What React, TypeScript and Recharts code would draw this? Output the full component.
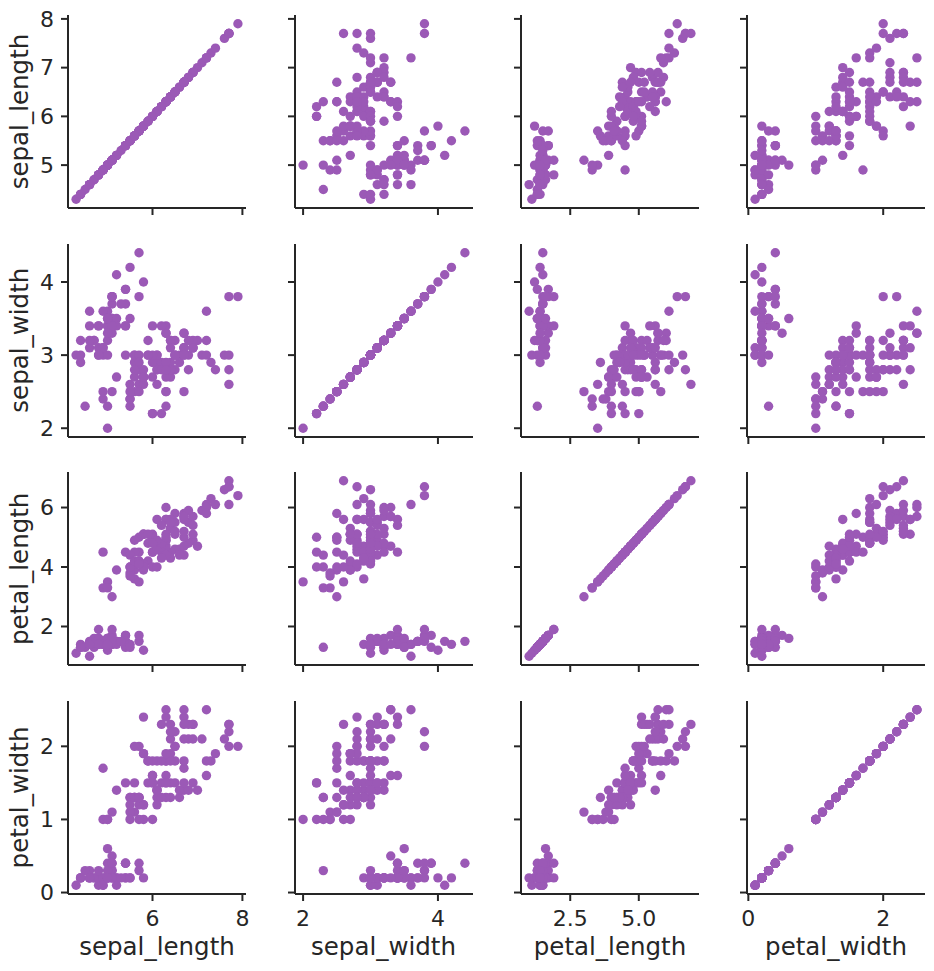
import React from 'react';
import { ScatterChart, Scatter, XAxis, YAxis } from 'recharts';

// iris measurements, one value per flower
const sepalLength = [
  5.1, 4.9, 4.7, 4.6, 5.0, 5.4, 4.6, 5.0, 4.4, 4.9, 5.4, 4.8, 4.8, 4.3, 5.8, 5.7, 5.4, 5.1, 5.7, 5.1,
  5.4, 5.1, 4.6, 5.1, 4.8, 5.0, 5.0, 5.2, 5.2, 4.7, 4.8, 5.4, 5.2, 5.5, 4.9, 5.0, 5.5, 4.9, 4.4, 5.1,
  5.0, 4.5, 4.4, 5.0, 5.1, 4.8, 5.1, 4.6, 5.3, 5.0,
  7.0, 6.4, 6.9, 5.5, 6.5, 5.7, 6.3, 4.9, 6.6, 5.2, 5.0, 5.9, 6.0, 6.1, 5.6, 6.7, 5.6, 5.8, 6.2, 5.6,
  5.9, 6.1, 6.3, 6.1, 6.4, 6.6, 6.8, 6.7, 6.0, 5.7, 5.5, 5.5, 5.8, 6.0, 5.4, 6.0, 6.7, 6.3, 5.6, 5.5,
  5.5, 6.1, 5.8, 5.0, 5.6, 5.7, 5.7, 6.2, 5.1, 5.7,
  6.3, 5.8, 7.1, 6.3, 6.5, 7.6, 4.9, 7.3, 6.7, 7.2, 6.5, 6.4, 6.8, 5.7, 5.8, 6.4, 6.5, 7.7, 7.7, 6.0,
  6.9, 5.6, 7.7, 6.3, 6.7, 7.2, 6.2, 6.1, 6.4, 7.2, 7.4, 7.9, 6.4, 6.3, 6.1, 7.7, 6.3, 6.4, 6.0, 6.9,
  6.7, 6.9, 5.8, 6.8, 6.7, 6.7, 6.3, 6.5, 6.2, 5.9,
];
const sepalWidth = [
  3.5, 3.0, 3.2, 3.1, 3.6, 3.9, 3.4, 3.4, 2.9, 3.1, 3.7, 3.4, 3.0, 3.0, 4.0, 4.4, 3.9, 3.5, 3.8, 3.8,
  3.4, 3.7, 3.6, 3.3, 3.4, 3.0, 3.4, 3.5, 3.4, 3.2, 3.1, 3.4, 4.1, 4.2, 3.1, 3.2, 3.5, 3.6, 3.0, 3.4,
  3.5, 2.3, 3.2, 3.5, 3.8, 3.0, 3.8, 3.2, 3.7, 3.3,
  3.2, 3.2, 3.1, 2.3, 2.8, 2.8, 3.3, 2.4, 2.9, 2.7, 2.0, 3.0, 2.2, 2.9, 2.9, 3.1, 3.0, 2.7, 2.2, 2.5,
  3.2, 2.8, 2.5, 2.8, 2.9, 3.0, 2.8, 3.0, 2.9, 2.6, 2.4, 2.4, 2.7, 2.7, 3.0, 3.4, 3.1, 2.3, 3.0, 2.5,
  2.6, 3.0, 2.6, 2.3, 2.7, 3.0, 2.9, 2.9, 2.5, 2.8,
  3.3, 2.7, 3.0, 2.9, 3.0, 3.0, 2.5, 2.9, 2.5, 3.6, 3.2, 2.7, 3.0, 2.5, 2.8, 3.2, 3.0, 3.8, 2.6, 2.2,
  3.2, 2.8, 2.8, 2.7, 3.3, 3.2, 2.8, 3.0, 2.8, 3.0, 2.8, 3.8, 2.8, 2.8, 2.6, 3.0, 3.4, 3.1, 3.0, 3.1,
  3.1, 3.1, 2.7, 3.2, 3.3, 3.0, 2.5, 3.0, 3.4, 3.0,
];
const petalLength = [
  1.4, 1.4, 1.3, 1.5, 1.4, 1.7, 1.4, 1.5, 1.4, 1.5, 1.5, 1.6, 1.4, 1.1, 1.2, 1.5, 1.3, 1.4, 1.7, 1.5,
  1.7, 1.5, 1.0, 1.7, 1.9, 1.6, 1.6, 1.5, 1.4, 1.6, 1.6, 1.5, 1.5, 1.4, 1.5, 1.2, 1.3, 1.4, 1.3, 1.5,
  1.3, 1.3, 1.3, 1.6, 1.9, 1.4, 1.6, 1.4, 1.5, 1.4,
  4.7, 4.5, 4.9, 4.0, 4.6, 4.5, 4.7, 3.3, 4.6, 3.9, 3.5, 4.2, 4.0, 4.7, 3.6, 4.4, 4.5, 4.1, 4.5, 3.9,
  4.8, 4.0, 4.9, 4.7, 4.3, 4.4, 4.8, 5.0, 4.5, 3.5, 3.8, 3.7, 3.9, 5.1, 4.5, 4.5, 4.7, 4.4, 4.1, 4.0,
  4.4, 4.6, 4.0, 3.3, 4.2, 4.2, 4.2, 4.3, 3.0, 4.1,
  6.0, 5.1, 5.9, 5.6, 5.8, 6.6, 4.5, 6.3, 5.8, 6.1, 5.1, 5.3, 5.5, 5.0, 5.1, 5.3, 5.5, 6.7, 6.9, 5.0,
  5.7, 4.9, 6.7, 4.9, 5.7, 6.0, 4.8, 4.9, 5.6, 5.8, 6.1, 6.4, 5.6, 5.1, 5.6, 6.1, 5.6, 5.5, 4.8, 5.4,
  5.6, 5.1, 5.1, 5.9, 5.7, 5.2, 5.0, 5.2, 5.4, 5.1,
];
const petalWidth = [
  0.2, 0.2, 0.2, 0.2, 0.2, 0.4, 0.3, 0.2, 0.2, 0.1, 0.2, 0.2, 0.1, 0.1, 0.2, 0.4, 0.4, 0.3, 0.3, 0.3,
  0.2, 0.4, 0.2, 0.5, 0.2, 0.2, 0.4, 0.2, 0.2, 0.2, 0.2, 0.4, 0.1, 0.2, 0.2, 0.2, 0.2, 0.1, 0.2, 0.2,
  0.3, 0.3, 0.2, 0.6, 0.4, 0.3, 0.2, 0.2, 0.2, 0.2,
  1.4, 1.5, 1.5, 1.3, 1.5, 1.3, 1.6, 1.0, 1.3, 1.4, 1.0, 1.5, 1.0, 1.4, 1.3, 1.4, 1.5, 1.0, 1.5, 1.1,
  1.8, 1.3, 1.5, 1.2, 1.3, 1.4, 1.4, 1.7, 1.5, 1.0, 1.1, 1.0, 1.2, 1.6, 1.5, 1.6, 1.5, 1.3, 1.3, 1.3,
  1.2, 1.4, 1.2, 1.0, 1.3, 1.2, 1.3, 1.3, 1.1, 1.3,
  2.5, 1.9, 2.1, 1.8, 2.2, 2.1, 1.7, 1.8, 1.8, 2.5, 2.0, 1.9, 2.1, 2.0, 2.4, 2.3, 1.8, 2.2, 2.3, 1.5,
  2.3, 2.0, 2.0, 1.8, 2.1, 1.8, 1.8, 1.8, 2.1, 1.6, 1.9, 2.0, 2.2, 1.5, 1.4, 2.3, 2.4, 1.8, 1.8, 2.1,
  2.4, 2.3, 1.9, 2.3, 2.5, 2.3, 1.9, 2.0, 2.3, 1.8,
];

const variables = ['sepal_length', 'sepal_width', 'petal_length', 'petal_width'];

// tick values as shown on the axes
const xTicks: Record<string, number[]> = {
  sepal_length: [6, 8],
  sepal_width: [2, 4],
  petal_length: [2.5, 5.0],
  petal_width: [0, 2],
};
const yTicks: Record<string, number[]> = {
  sepal_length: [5, 6, 7, 8],
  sepal_width: [2, 3, 4],
  petal_length: [2, 4, 6],
  petal_width: [0, 1, 2],
};
const xTickDecimals: Record<string, number> = {
  sepal_length: 0,
  sepal_width: 0,
  petal_length: 1,
  petal_width: 0,
};

const rows = sepalLength.map((v, i) => ({
  sepal_length: v,
  sepal_width: sepalWidth[i],
  petal_length: petalLength[i],
  petal_width: petalWidth[i],
}));

const padDomain = (key: string): [number, number] => {
  const vals = rows.map((r: any) => r[key] as number);
  const lo = Math.min(...vals);
  const hi = Math.max(...vals);
  const pad = (hi - lo) * 0.05;
  return [lo - pad, hi + pad];
};
const domains: Record<string, [number, number]> = {};
variables.forEach((v) => (domains[v] = padDomain(v)));

const COLOR = '#9b59b6';
const INK = '#262626';
const FONT = '"DejaVu Sans", sans-serif';

const colLeft = [68, 294.5, 521, 747];
const rowTop = [15, 243.7, 472.3, 701];
const PW = 178;
const PH = 193;
const YW = 60;
const XH = 40;
const MT = 12;
const MR = 14;

const lineStyle = { stroke: INK, strokeWidth: 2 };
const tickText = { fill: INK, fontSize: 22, fontFamily: FONT };
// keeps the tick marks but draws no label (inner panels)
const NoLabel = () => <g />;

const Dot = (props: any) => <circle cx={props.cx} cy={props.cy} r={4.7} fill={COLOR} />;

const Panel = ({ r, c }: { r: number; c: number }) => {
  const xv = variables[c];
  const yv = variables[r];
  return (
    <div style={{ position: 'absolute', left: colLeft[c] - YW, top: rowTop[r] - MT }}>
      <ScatterChart
        width={YW + PW + MR}
        height={MT + PH + XH}
        margin={{ top: MT, right: MR, bottom: 0, left: 0 }}
      >
        <XAxis
          type="number"
          dataKey={xv}
          domain={domains[xv]}
          allowDataOverflow
          ticks={xTicks[xv]}
          interval={0}
          height={XH}
          tickSize={7}
          tickMargin={9}
          axisLine={lineStyle}
          tickLine={lineStyle}
          tick={r === 3 ? tickText : NoLabel}
          tickFormatter={(t: number) => t.toFixed(xTickDecimals[xv])}
        />
        <YAxis
          type="number"
          dataKey={yv}
          domain={domains[yv]}
          allowDataOverflow
          ticks={yTicks[yv]}
          interval={0}
          width={YW}
          tickSize={7}
          tickMargin={7}
          axisLine={lineStyle}
          tickLine={lineStyle}
          tick={c === 0 ? tickText : NoLabel}
        />
        <Scatter data={rows} fill={COLOR} shape={Dot} isAnimationActive={false} />
      </ScatterChart>
    </div>
  );
};

export default function App() {
  return (
    <div style={{ position: 'absolute', left: 0, top: 0, width: 934, height: 971, background: '#fff' }}>
      {variables.map((_, r) => variables.map((__, c) => <Panel key={`${r}-${c}`} r={r} c={c} />))}
      <svg width={934} height={971} style={{ position: 'absolute', left: 0, top: 0, pointerEvents: 'none' }}>
        {variables.map((v, c) => (
          <text
            key={`x-${v}`}
            x={colLeft[c] + PW / 2}
            y={955}
            textAnchor="middle"
            fontSize={24.5}
            fontFamily={FONT}
            fill={INK}
          >
            {v}
          </text>
        ))}
        {variables.map((v, r) => (
          <text
            key={`y-${v}`}
            transform={`translate(28, ${rowTop[r] + PH / 2}) rotate(-90)`}
            textAnchor="middle"
            fontSize={24.5}
            fontFamily={FONT}
            fill={INK}
          >
            {v}
          </text>
        ))}
      </svg>
    </div>
  );
}
